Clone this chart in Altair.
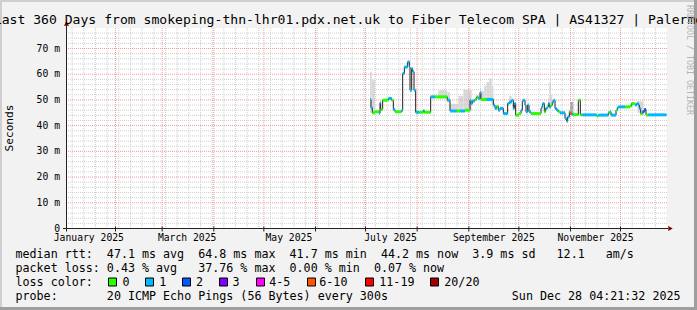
import altair as alt
import pandas as pd

# ---------------- values ----------------
# median RTT drawn as steps: start of each step (days since 2025-01-01 00:00),
# median value (ms) and loss class index of that step
step_day = [183.7, 184.3, 185.1, 186.7, 189.1, 189.7, 190.1, 191.3, 194.7, 196.7,
            197.7, 198.7, 202.7, 203.3, 204.3, 206.3, 207.3, 207.7, 208.7, 209.3,
            210.1, 211.1, 213.2, 215.7, 216.3, 220.1, 222.7, 230.1, 231.7, 235.7,
            237.7, 240.7, 243.7, 244.3, 245.1, 246.7, 247.7, 248.7, 249.7, 250.3,
            253.7, 257.7, 258.7, 259.7, 260.7, 261.7, 263.7, 266.3, 267.3, 268.7,
            269.7, 270.3, 271.1, 273.1, 274.3, 275.1, 275.7, 276.7, 277.3, 278.3,
            279.1, 280.3, 286.3, 286.7, 287.3, 288.3, 289.1, 290.1, 290.7, 291.3,
            292.3, 293.1, 293.9, 294.7, 295.7, 296.7, 297.7, 300.7, 301.7, 302.3,
            303.3, 303.7, 304.7, 305.7, 308.7, 309.9, 311.2, 319.7, 320.7, 326.7,
            327.7, 328.3, 331.3, 332.1, 332.7, 336.7, 339.7, 340.7, 342.7, 343.7,
            344.7, 345.3, 346.1, 347.3, 348.3, 349.3, 350.7]
step_ms = [50.2, 47.0, 45.0, 45.4, 44.8, 48.9, 46.3, 49.9, 50.6, 49.9,
           46.3, 45.4, 46.0, 60.3, 62.8, 64.8, 62.8, 53.8, 62.2, 61.0,
           53.8, 45.2, 45.2, 45.8, 45.2, 51.2, 51.2, 49.9, 45.7, 45.7,
           45.7, 46.0, 49.9, 48.6, 49.6, 50.2, 51.2, 50.6, 52.9, 50.2,
           50.2, 48.0, 46.7, 47.5, 46.0, 46.7, 44.7, 48.6, 49.2, 49.9,
           46.7, 48.6, 44.1, 44.7, 46.0, 49.6, 49.9, 48.0, 45.4, 48.0,
           45.4, 44.7, 46.7, 47.3, 48.6, 45.4, 46.7, 47.3, 48.6, 47.3,
           48.0, 49.2, 49.9, 46.7, 46.0, 45.4, 45.0, 42.8, 41.7, 43.4,
           45.4, 44.7, 44.5, 44.3, 49.9, 44.2, 44.2, 43.8, 44.1, 45.1,
           45.4, 44.1, 46.0, 47.0, 47.3, 47.3, 47.6, 48.6, 48.0, 48.6,
           48.0, 46.7, 44.7, 45.4, 46.3, 44.1, 44.2]
step_loss = [1, 1, 0, 0, 1, 1, 0, 0, 1, 0,
             1, 0, 1, 1, 1, 1, 1, 1, 1, 1,
             1, 1, 0, 1, 0, 1, 0, 1, 1, 0,
             1, 0, 1, 1, 1, 0, 0, 1, 1, 0,
             1, 1, 1, 0, 1, 1, 1, 1, 1, 1,
             1, 1, 0, 0, 1, 1, 1, 1, 1, 1,
             1, 0, 1, 1, 1, 0, 1, 0, 1, 1,
             0, 1, 1, 1, 1, 0, 1, 1, 1, 1,
             0, 5, 1, 0, 0, 0, 1, 0, 1, 0,
             1, 1, 0, 1, 1, 0, 0, 0, 1, 1,
             1, 1, 0, 2, 2, 0, 1]
last_day = 361.6

# "smoke": spread of the individual pings (start, end, low, high in ms, shade)
smoke_start = [183.7, 184.7, 224.7, 230.1, 231.7, 236.7, 239.7, 250.7, 252.2, 253.7,
               255.2, 256.7, 267.2, 290.7, 291.3, 292.3, 303.7, 344.2]
smoke_end = [184.7, 186.7, 230.1, 231.7, 236.7, 239.7, 244.7, 252.2, 253.7, 255.2,
             256.7, 257.7, 268.7, 291.3, 292.3, 293.1, 305.7, 347.7]
smoke_low = [45.0, 45.0, 50.5, 49.0, 45.5, 45.5, 45.5, 49.5, 49.5, 49.5,
             49.5, 48.0, 48.5, 47.0, 47.0, 47.5, 44.0, 45.0]
smoke_high = [61.0, 57.7, 53.8, 53.0, 48.5, 51.5, 54.0, 53.5, 55.5, 57.0,
              58.3, 55.5, 51.5, 51.0, 57.0, 52.0, 49.2, 49.5]
smoke_shade = ["light"] * 16 + ["dark", "light"]

loss_labels = ["0", "1", "2", "3", "4-5", "6-10", "11-19", "20/20"]
loss_colors = ["#26ff00", "#00b8ff", "#0059ff", "#7e00ff", "#ff00ff", "#ff5500", "#ff0000", "#a10000"]

y_major = [10, 20, 30, 40, 50, 60, 70]
y_minor = [v for v in range(2, 78, 2) if v % 10]
y_labels = [0, 10, 20, 30, 40, 50, 60, 70]
label_months = [1, 3, 5, 7, 9, 11]

title = "Last 360 Days from smokeping-thn-lhr01.pdx.net.uk to Fiber Telecom SPA | AS41327 | Palermo"
legend_rows = [
    "median rtt:  47.1 ms avg  64.8 ms max  41.7 ms min  44.2 ms now  3.9 ms sd   12.1   am/s",
    "packet loss: 0.43 % avg   37.76 % max  0.00 % min  0.07 % now",
    "loss color:",
    "probe:       20 ICMP Echo Pings (56 Bytes) every 300s",
]
stamp = "Sun Dec 28 04:21:32 2025"

# ---------------- layout (page pixels) ----------------
L, T, W, H = 67, 28, 600, 200
MONO = "DejaVu Sans Mono"
NB = "\u00a0"

base = pd.Timestamp("2025-01-01")


def ts(days):
    return base + pd.to_timedelta(pd.Series(days, dtype=float), unit="D")


loss_names = [loss_labels[i] for i in step_loss]
ends = step_day[1:] + [last_day]
bands = pd.DataFrame({"t": ts(step_day), "t2": ts(ends), "ms": step_ms, "loss": loss_names})
line_df = pd.DataFrame({"t": ts(step_day + [last_day]), "ms": step_ms + [step_ms[-1]]})
smoke = pd.DataFrame({"t": ts(smoke_start), "t2": ts(smoke_end), "lo": smoke_low,
                      "hi": smoke_high, "shade": smoke_shade})

xscale = alt.Scale(domain=[alt.DateTime(year=2025, month=1, date=2, hours=14, minutes=24),
                           alt.DateTime(year=2025, month=12, date=28, hours=14, minutes=24)],
                   range=[-0.5, W - 0.5])
yscale = alt.Scale(domain=[0, 77.78], range=[H + 0.5, 0.5], nice=False, zero=False)

month_starts = pd.DataFrame({"t": [pd.Timestamp(2025, m, 1) for m in range(2, 13)]})
mondays = pd.DataFrame({"t": pd.date_range("2025-01-06", "2025-12-22", freq="W-MON")})
xlab = pd.DataFrame({"t": [pd.Timestamp(2025, m, 16) for m in label_months]})
xlab["s"] = xlab["t"].dt.strftime("%B %Y")
ylab = pd.DataFrame({"v": y_labels})
ylab["s"] = [("0" + NB + NB) if v == 0 else f"{v}{NB}m" for v in y_labels]


def X(f="t:T"):
    return alt.X(f, scale=xscale, axis=None)


def Y(f):
    return alt.Y(f, scale=yscale, axis=None)


layers = []

# smoke
for shade, col in (("light", "#d9d9d9"), ("dark", "#a8a8a8")):
    layers.append(alt.Chart(smoke[smoke["shade"] == shade]).mark_rect(color=col).encode(
        x=X(), x2="t2:T", y=Y("lo:Q"), y2="hi:Q"))

# grid
layers.append(alt.Chart(pd.DataFrame({"v": y_minor})).mark_rule(color="#cfcfcf", strokeDash=[1, 1]).encode(y=Y("v:Q")))
layers.append(alt.Chart(mondays).mark_rule(color="#cfcfcf", strokeDash=[1, 1]).encode(x=X()))
layers.append(alt.Chart(pd.DataFrame({"v": y_major})).mark_rule(color="#f29a9a", strokeDash=[1, 1]).encode(y=Y("v:Q")))
layers.append(alt.Chart(month_starts).mark_rule(color="#f29a9a", strokeDash=[1, 1]).encode(x=X()))

# x-axis ticks at month starts
layers.append(alt.Chart(month_starts).mark_rule(color="#222222").encode(
    x=X(), y=alt.value(H - 1.5), y2=alt.value(H + 3.5)))

# axis labels
layers.append(alt.Chart(xlab).mark_text(font=MONO, fontSize=9.72, color="#000000", align="center",
                                        baseline="alphabetic").encode(
    x=X(), y=alt.value(241 - T), text="s:N"))
layers.append(alt.Chart(ylab).mark_text(font=MONO, fontSize=9.72, color="#000000", align="right",
                                        baseline="middle").encode(
    y=Y("v:Q"), x=alt.value(-7), text="s:N"))

# median: dark step line + coloured loss bands
layers.append(alt.Chart(line_df).mark_line(interpolate="step-after", color="#202020", strokeWidth=1).encode(
    x=X(), y=Y("ms:Q")))
layers.append(alt.Chart(bands).mark_rule(strokeWidth=3, strokeCap="butt").encode(
    x=X(), x2="t2:T", y=Y("ms:Q"),
    color=alt.Color("loss:N", scale=alt.Scale(domain=loss_labels, range=loss_colors), legend=None)))

one = pd.DataFrame({"s": [""]})


def rule(x, x2, y, y2, color):
    return alt.Chart(one).mark_rule(color=color, strokeWidth=1).encode(
        x=alt.value(x), x2=alt.value(x2), y=alt.value(y), y2=alt.value(y2))


def box(x, x2, y, y2, fill, stroke=None):
    kw = {"fill": fill}
    if stroke:
        kw.update(stroke=stroke, strokeWidth=1)
    return alt.Chart(one).mark_rect(**kw).encode(
        x=alt.value(x), x2=alt.value(x2), y=alt.value(y), y2=alt.value(y2))


def txt(s, x, y, size, align="left", baseline="alphabetic", angle=0, color="#000000"):
    return alt.Chart(pd.DataFrame({"s": [s.replace(" ", NB)]})).mark_text(
        align=align, baseline=baseline, angle=angle, font=MONO, fontSize=size, color=color).encode(
        x=alt.value(x), y=alt.value(y), text="s:N")


# axis lines and arrows
layers.append(rule(-0.5, -0.5, -6, H + 3.5, "#222222"))
layers.append(rule(-4, W + 1, H + 0.5, H + 0.5, "#222222"))
layers.append(alt.Chart(one).mark_point(shape="triangle-up", filled=True, size=26, color="#7f0000", opacity=1).encode(
    x=alt.value(-0.5), y=alt.value(-4.5)))
layers.append(alt.Chart(one).mark_point(shape="triangle-right", filled=True, size=26, color="#7f0000", opacity=1).encode(
    x=alt.value(W + 3.5), y=alt.value(H + 0.5)))

# frame of the picture
layers.append(box(-L, 697 - L, -T, -T + 2, "#cfcfcf"))
layers.append(box(-L, -L + 2, -T, 310 - T, "#cfcfcf"))
layers.append(box(694 - L, 697 - L, -T, 310 - T, "#9e9e9e"))
layers.append(box(-L, 697 - L, 307 - T, 310 - T, "#9e9e9e"))

# texts
layers.append(txt(title, 348.5 - L, 24 - T, 13.1, align="center"))
layers.append(txt("Seconds", 10 - L, 128 - T, 11.1, align="center", baseline="middle", angle=270))
layers.append(txt("RRDTOOL / TOBI OETIKER", 689 - L, 60 - T, 8.3, align="center", baseline="middle", angle=90,
                  color="#b4b4b4"))
for i, row in enumerate(legend_rows):
    layers.append(txt(row, 15.5 - L, 258 + 14 * i - T, 11.68))
layers.append(txt(stamp, 680.5 - L, 300 - T, 11.68, align="right"))

swatch_x = [108.5, 145.5, 182.5, 219.5, 256.5, 307.5, 365.5, 430.5]
label_x = [122.6, 159.3, 196.0, 232.6, 269.3, 319.3, 379.3, 444.3]
for sx, lx, lab, col in zip(swatch_x, label_x, loss_labels, loss_colors):
    layers.append(box(sx - L, sx + 8 - L, 278 - T, 286 - T, col, "#000000"))
    layers.append(txt(lab, lx - L, 286 - T, 11.68))

chart = alt.layer(*layers).properties(
    width=W, height=H,
    padding={"left": L, "top": T, "right": 697 - L - W, "bottom": 310 - T - H},
    autosize=alt.AutoSizeParams(type="none"),
    background="#f2f2f2",
).configure_view(fill="#ffffff", stroke=None)

chart.save("out.html", embed_options={"renderer": "svg", "actions": False})
